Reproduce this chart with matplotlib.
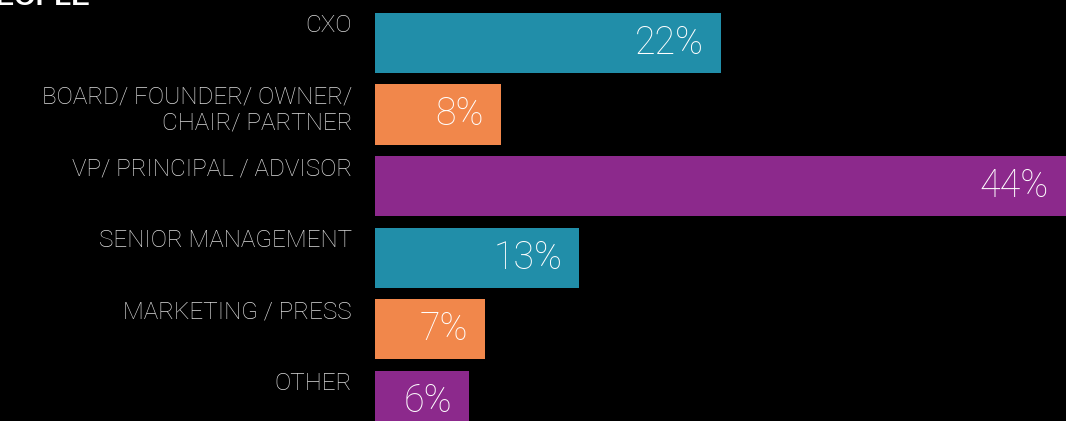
import matplotlib
matplotlib.use("Agg")
import matplotlib.pyplot as plt

categories = ["CXO", "BOARD/ FOUNDER/ OWNER/\nCHAIR/ PARTNER", "VP/ PRINCIPAL / ADVISOR",
              "SENIOR MANAGEMENT", "MARKETING / PRESS", "OTHER"]
values = [22, 8, 44, 13, 7, 6]
value_labels = ["22%", "8%", "44%", "13%", "7%", "6%"]
colors = ["#218ea9", "#f1874b", "#8c298c", "#218ea9", "#f1874b", "#8c298c"]
title = "PEOPLE"

W, H = 1066, 421
fig = plt.figure(figsize=(W / 100, H / 100), dpi=100, facecolor="black")
ax = fig.add_axes([375 / W, 0, 1 - 375 / W, 1])
ax.set_facecolor("black")

ypos = list(range(len(values)))
bar_h = 0.84
ax.barh(ypos, values, height=bar_h, color=colors, edgecolor="none")
ax.set_xlim(0, 44)
ax.set_ylim(5.28, -0.6)
ax.axis("off")

label_font = dict(family=["Roboto", "DejaVu Sans"], weight="light")
for y, cat in zip(ypos, categories):
    ax.annotate(cat, xy=(0, y - bar_h / 2), xytext=(-23, -1.5), textcoords="offset pixels",
                ha="right", va="top", color="#dddddd", fontsize=17.5,
                linespacing=1.15, annotation_clip=False, **label_font)

for y, v, lab in zip(ypos, values, value_labels):
    ax.annotate(lab, xy=(v, y), xytext=(-17, 0), textcoords="offset pixels",
                ha="right", va="center", color="white", fontsize=27,
                annotation_clip=False, **label_font)

fig.text(90 / W, 1 - 5 / H, title, ha="right", va="baseline", color="white",
         fontsize=20, family=["Liberation Sans", "DejaVu Sans"], weight="bold")

fig.savefig("out.png", dpi=100, facecolor="black")
